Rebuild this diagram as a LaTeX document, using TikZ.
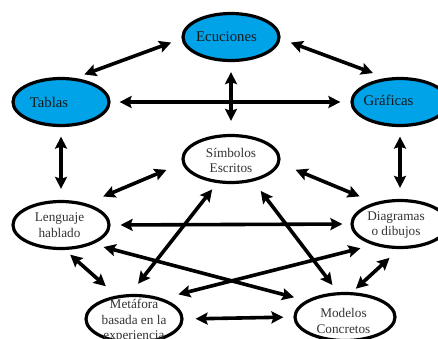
\documentclass[tikz,border=0pt]{standalone}
\usepackage{fontspec}
\setmainfont{Liberation Serif}
\usetikzlibrary{arrows.meta}
\usetikzlibrary{shapes}

\definecolor{celeste}{HTML}{00A2E8}

\begin{document}
\begin{tikzpicture}[x = 1bp, y = -1bp]
	\tikzstyle{blueStyle} = [shape = ellipse, draw, line width = 3.2bp, fill = celeste, minimum width = 96bp, minimum height = 47bp, inner sep = 0pt]
	\tikzstyle{whiteStyle} = [shape = ellipse, draw, line width = 3.2bp, fill = white, minimum width = 96bp, minimum height = 47bp, inner sep = 0pt]
	\tikzstyle{bigText} = [font = \fontsize{14.8}{17}\selectfont, text = black!90]
	\tikzstyle{smallText} = [font = \fontsize{13.3}{15.5}\selectfont, text = black!80, align = center]
	\tikzstyle{EdgeStyle} = [{Stealth[length = 12bp, width = 12bp, inset = 2bp]}-{Stealth[length = 12bp, width = 12bp, inset = 2bp]}, line width = 3.6bp]
	\useasboundingbox (0,0) rectangle (438,338);
	\clip (0,0) rectangle (438,338);
	% representaciones
	\node[blueStyle, label = {[bigText, xshift = -4.5bp]center:Ecuciones}] (ecu) at (231,37) {};
	\node[blueStyle, label = {[bigText, xshift = -12bp]center:Tablas}] (tab) at (61,102) {};
	\node[blueStyle, label = {[bigText, xshift = -11.5bp, yshift = 1.5bp]center:Gráficas}] (gra) at (400,102) {};
	\node[whiteStyle, label = {[smallText, yshift = -1.5bp]center:Símbolos\\Escritos}] (sim) at (231,159) {};
	\node[whiteStyle, label = {[smallText, xshift = -1.5bp]center:Lenguaje\\hablado}] (len) at (61,225) {};
	\node[whiteStyle, label = {[smallText, xshift = -4bp, yshift = -1bp]center:Diagramas\\o dibujos}] (dia) at (400,224) {};
	\node[whiteStyle, label = {[smallText, yshift = -2bp]center:Metáfora\\basada en la\\experiencia}] (met) at (134,319) {};
	\node[whiteStyle, minimum width = 100bp, label = {[smallText, xshift = -1.5bp, yshift = -4bp]center:Modelos\\Concretos}] (mod) at (345,317) {};
	% conexiones
	\draw[EdgeStyle, shorten <= 10bp, shorten >= 11bp] (tab.60) -- (ecu.182);
	\draw[EdgeStyle, shorten <= 11bp, shorten >= 14bp] (ecu.-2) -- (gra.120);
	\draw[EdgeStyle, shorten <= 9bp, shorten >= 10bp] (tab.east) -- (gra.west);
	\draw[EdgeStyle, shorten <= 10bp, shorten >= 13bp] (ecu.south) -- (sim.north);
	\draw[EdgeStyle, shorten <= 9.5bp, shorten >= 11bp] (tab.south) -- (len.north);
	\draw[EdgeStyle, shorten <= 9.5bp, shorten >= 11bp] (gra.south) -- (dia.north);
	\draw[EdgeStyle, shorten <= 17bp, shorten >= 18bp] (sim.185) -- (len.40);
	\draw[EdgeStyle, shorten <= 17bp, shorten >= 16bp] (sim.-5) -- (dia.140);
	\draw[EdgeStyle, shorten <= 10bp, shorten >= 8bp] (len.east) -- (dia.west);
	\draw[EdgeStyle, shorten <= 7bp, shorten >= 14bp] (len.279) -- (met.127);
	\draw[EdgeStyle, shorten <= 13bp, shorten >= 5bp] (dia.268) -- (mod.74);
	\draw[EdgeStyle, shorten <= 12bp, shorten >= 10bp] (met.east) -- (mod.west);
	\draw[EdgeStyle, shorten <= 13bp, shorten >= 8bp] (met.99) -- (sim.240);
	\draw[EdgeStyle, shorten <= 9bp, shorten >= 12bp] (mod.106) -- (sim.315);
	\draw[EdgeStyle, shorten <= 11bp, shorten >= 12.5bp] (len.329) -- (mod.157);
	\draw[EdgeStyle, shorten <= 16.5bp, shorten >= 13bp] (met.36) -- (dia.218);
\end{tikzpicture}
\end{document}
